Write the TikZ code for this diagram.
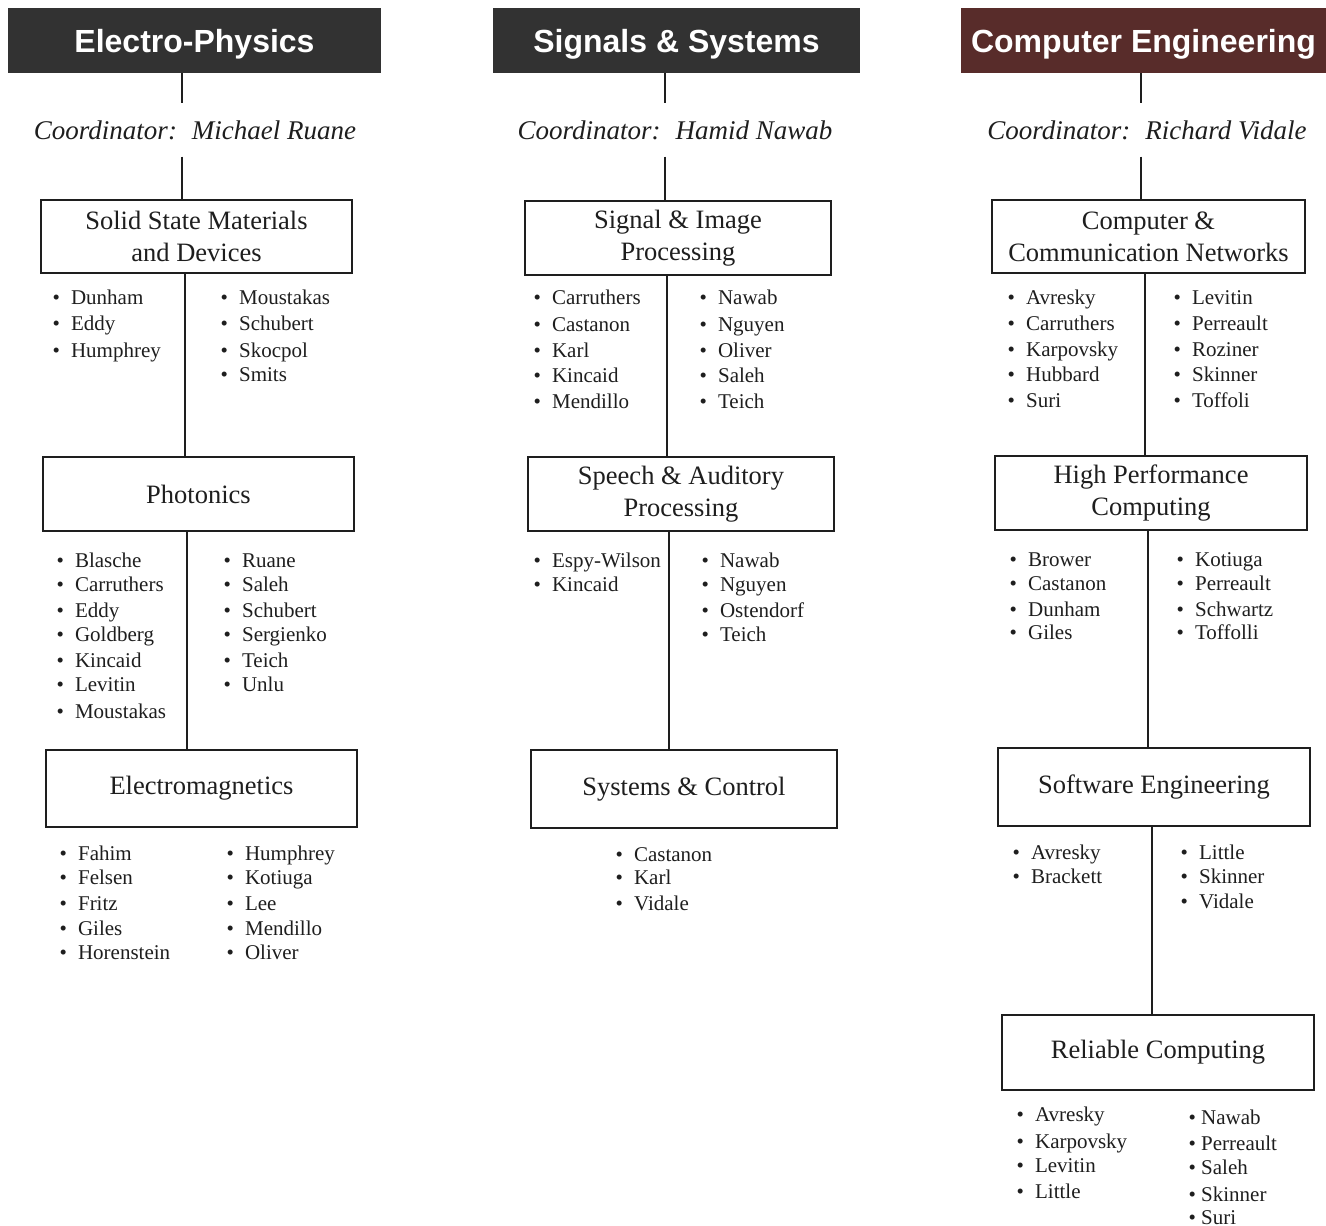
\documentclass[tikz,border=0pt]{standalone}
\usepackage{fontspec}
\setmainfont{Liberation Serif}
\newfontfamily\hdrfont{Liberation Sans}
\definecolor{hdrgray}{RGB}{50,50,50}
\definecolor{hdrred}{RGB}{88,44,42}
\definecolor{ink}{RGB}{30,30,30}
\newcommand{\blt}[1]{\makebox[18.5pt][l]{\textbullet}#1}
\newcommand{\bltn}[1]{\makebox[12.6pt][l]{\textbullet}#1}
\begin{document}
\begin{tikzpicture}[x=1pt,y=-1pt,
  hdr/.style={fill=hdrgray,text=white,font=\hdrfont\bfseries\fontsize{32}{36}\selectfont,inner sep=0pt,minimum height=65pt,text height=23pt,text depth=0pt},
  coord/.style={font=\itshape\fontsize{27}{30}\selectfont,text=ink,inner sep=0pt,minimum height=53pt},
  box/.style={draw=ink,line width=2.4pt,fill=white,align=center,text=ink,font=\fontsize{26.5}{32}\selectfont,inner sep=0pt},
  lst/.style={anchor=base west,inner sep=0pt,text=ink,font=\fontsize{21}{24}\selectfont},
  conn/.style={draw=ink,line width=2.2pt}]
\useasboundingbox (0,0) rectangle (1326,1226);

% ---------- Column 1 ----------
\node[hdr,minimum width=373pt] (h1) at (194.5,40.5) {Electro-Physics};
\node[coord] (co1) at (195,130) {Coordinator:\hspace{0.55em}Michael Ruane};
\node[box,minimum width=311pt,minimum height=73pt] (a1) at (196.5,236.5) {Solid State Materials\\and Devices};
\node[box,minimum width=311pt,minimum height=74pt] (a2) at (198.5,494) {Photonics};
\node[box,minimum width=311pt,minimum height=77pt] (a3) at (201.5,788.5) {Electromagnetics};
\coordinate (xa0) at (182,0);
\coordinate (xa1) at (185,0);
\coordinate (xa2) at (187,0);
\draw[conn] (xa0 |- h1.south) -- (xa0 |- co1.north);
\draw[conn] (xa0 |- co1.south) -- (xa0 |- a1.north);
\draw[conn] (xa1 |- a1.south) -- (xa1 |- a2.north);
\draw[conn] (xa2 |- a2.south) -- (xa2 |- a3.north);

\foreach \n/\y [count=\i] in {Dunham/297,Eddy/323,Humphrey/350}
  \node[lst] (a1l\i) at (52.4,\y+7) {\blt{\n}};
\foreach \n/\y [count=\i] in {Moustakas/297,Schubert/323,Skocpol/350,Smits/374}
  \node[lst] (a1r\i) at (220.4,\y+7) {\blt{\n}};
\foreach \n/\y [count=\i] in {Blasche/560,Carruthers/584,Eddy/610,Goldberg/634,Kincaid/660,Levitin/684,Moustakas/711}
  \node[lst] (a2l\i) at (56.4,\y+7) {\blt{\n}};
\foreach \n/\y [count=\i] in {Ruane/560,Saleh/584,Schubert/610,Sergienko/634,Teich/660,Unlu/684}
  \node[lst] (a2r\i) at (223.4,\y+7) {\blt{\n}};
\foreach \n/\y [count=\i] in {Fahim/853,Felsen/877,Fritz/903,Giles/928,Horenstein/952}
  \node[lst] (a3l\i) at (59.4,\y+7) {\blt{\n}};
\foreach \n/\y [count=\i] in {Humphrey/853,Kotiuga/877,Lee/903,Mendillo/928,Oliver/952}
  \node[lst] (a3r\i) at (226.4,\y+7) {\blt{\n}};

% ---------- Column 2 ----------
\node[hdr,minimum width=367pt] (h2) at (676.5,40.5) {Signals \& Systems};
\node[coord] (co2) at (675,130) {Coordinator:\hspace{0.55em}Hamid Nawab};
\node[box,minimum width=306pt,minimum height=74pt] (b1) at (678,238) {Signal \& Image\\Processing};
\node[box,minimum width=306pt,minimum height=74pt] (b2) at (681,494) {Speech \& Auditory\\Processing};
\node[box,minimum width=306pt,minimum height=78pt] (b3) at (684,789) {Systems \& Control};
\coordinate (xb0) at (665,0);
\coordinate (xb1) at (667,0);
\coordinate (xb2) at (669,0);
\draw[conn] (xb0 |- h2.south) -- (xb0 |- co2.north);
\draw[conn] (xb0 |- co2.south) -- (xb0 |- b1.north);
\draw[conn] (xb1 |- b1.south) -- (xb1 |- b2.north);
\draw[conn] (xb2 |- b2.south) -- (xb2 |- b3.north);

\foreach \n/\y [count=\i] in {Carruthers/297,Castanon/324,Karl/350,Kincaid/375,Mendillo/401}
  \node[lst] (b1l\i) at (533.4,\y+7) {\blt{\n}};
\foreach \n/\y [count=\i] in {Nawab/297,Nguyen/324,Oliver/350,Saleh/375,Teich/401}
  \node[lst] (b1r\i) at (699.4,\y+7) {\blt{\n}};
\foreach \n/\y [count=\i] in {Espy-Wilson/560,Kincaid/584}
  \node[lst] (b2l\i) at (533.4,\y+7) {\blt{\n}};
\foreach \n/\y [count=\i] in {Nawab/560,Nguyen/584,Ostendorf/610,Teich/634}
  \node[lst] (b2r\i) at (701.4,\y+7) {\blt{\n}};
\foreach \n/\y [count=\i] in {Castanon/854,Karl/877,Vidale/903}
  \node[lst] (b3l\i) at (615.4,\y+7) {\blt{\n}};

% ---------- Column 3 ----------
\node[hdr,fill=hdrred,minimum width=365pt] (h3) at (1143.5,40.5) {Computer Engineering};
\node[coord] (co3) at (1147,130) {Coordinator:\hspace{0.55em}Richard Vidale};
\node[box,minimum width=313pt,minimum height=73pt] (c1) at (1148.5,236.5) {Computer \&\\Communication Networks};
\node[box,minimum width=312pt,minimum height=74pt] (c2) at (1151,493) {High Performance\\Computing};
\node[box,minimum width=312pt,minimum height=78pt] (c3) at (1154,787) {Software Engineering};
\node[box,minimum width=312pt,minimum height=75pt] (c4) at (1158,1052.5) {Reliable Computing};
\coordinate (xc0) at (1141,0);
\coordinate (xc1) at (1145,0);
\coordinate (xc2) at (1148,0);
\coordinate (xc3) at (1152,0);
\draw[conn] (xc0 |- h3.south) -- (xc0 |- co3.north);
\draw[conn] (xc0 |- co3.south) -- (xc0 |- c1.north);
\draw[conn] (xc1 |- c1.south) -- (xc1 |- c2.north);
\draw[conn] (xc2 |- c2.south) -- (xc2 |- c3.north);
\draw[conn] (xc3 |- c3.south) -- (xc3 |- c4.north);

\foreach \n/\y [count=\i] in {Avresky/297,Carruthers/323,Karpovsky/349,Hubbard/374,Suri/400}
  \node[lst] (c1l\i) at (1007.4,\y+7) {\blt{\n}};
\foreach \n/\y [count=\i] in {Levitin/297,Perreault/323,Roziner/349,Skinner/374,Toffoli/400}
  \node[lst] (c1r\i) at (1173.4,\y+7) {\blt{\n}};
\foreach \n/\y [count=\i] in {Brower/559,Castanon/583,Dunham/609,Giles/632}
  \node[lst] (c2l\i) at (1009.4,\y+7) {\blt{\n}};
\foreach \n/\y [count=\i] in {Kotiuga/559,Perreault/583,Schwartz/609,Toffolli/632}
  \node[lst] (c2r\i) at (1176.4,\y+7) {\blt{\n}};
\foreach \n/\y [count=\i] in {Avresky/852,Brackett/876}
  \node[lst] (c3l\i) at (1012.4,\y+7) {\blt{\n}};
\foreach \n/\y [count=\i] in {Little/852,Skinner/876,Vidale/901}
  \node[lst] (c3r\i) at (1180.4,\y+7) {\blt{\n}};
\foreach \n/\y [count=\i] in {Avresky/1114,Karpovsky/1141,Levitin/1165,Little/1191}
  \node[lst] (c4l\i) at (1016.4,\y+7) {\blt{\n}};
\foreach \n/\y [count=\i] in {Nawab/1117,Perreault/1143,Saleh/1167,Skinner/1194,Suri/1217}
  \node[lst] (c4r\i) at (1188.4,\y+7) {\bltn{\n}};
\end{tikzpicture}
\end{document}
